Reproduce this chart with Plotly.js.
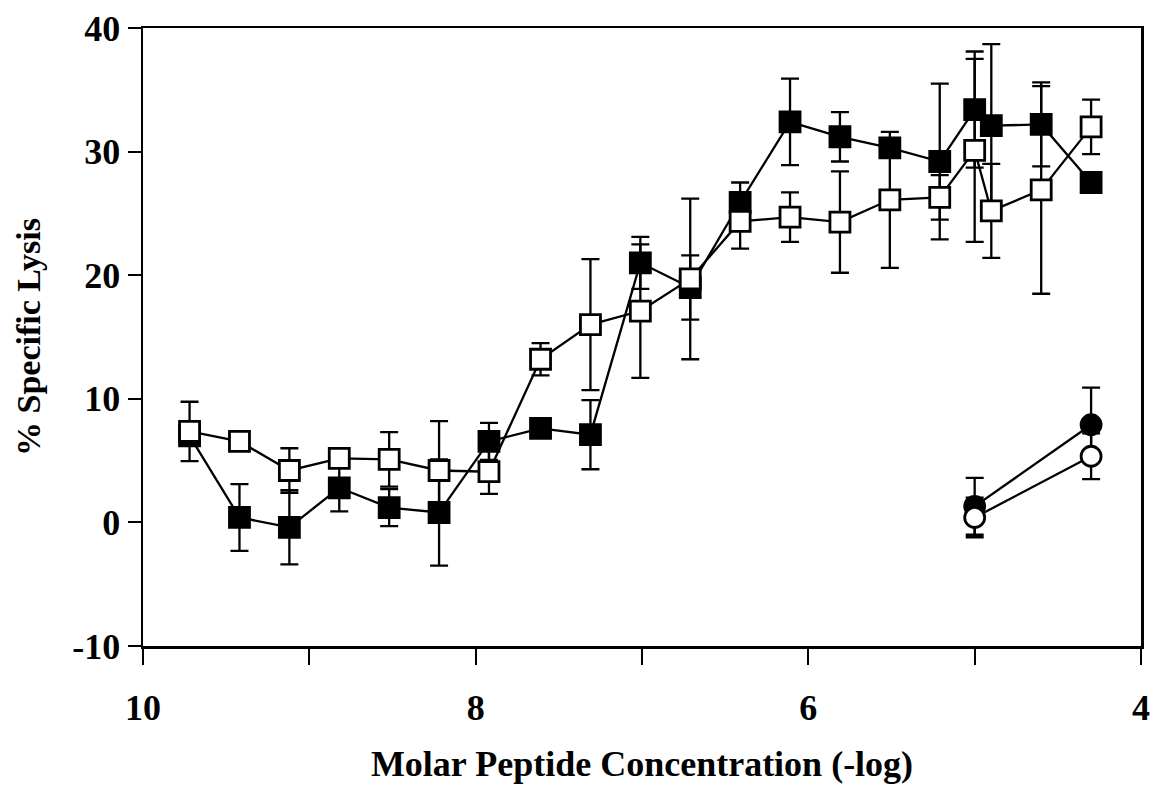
<!DOCTYPE html>
<html>
<head>
<meta charset="utf-8">
<script src="https://cdn.plot.ly/plotly-3.0.1.min.js"></script>
<style>
  html, body { margin: 0; padding: 0; background: #fff; }
  #chart { width: 1159px; height: 803px; }
</style>
</head>
<body>
<div id="chart"></div>
<script>
// Molar peptide concentration (-log), twofold dilution series
const xSquares = [9.72, 9.42, 9.12, 8.82, 8.52, 8.22, 7.92, 7.61, 7.31, 7.01, 6.71, 6.41, 6.11, 5.81, 5.51, 5.21, 5.0, 4.9, 4.6, 4.3];

// Filled squares
const filledSqY   = [7.0, 0.4, -0.4, 2.8, 1.2, 0.8, 6.55, 7.6, 7.1, 21.0, 19.0, 25.9, 32.4, 31.2, 30.3, 29.2, 33.4, 32.1, 32.2, 27.5];
const filledSqErr = [0.5, 2.7, 3.0, 1.9, 1.5, 4.3, 1.5, 0.5, 2.8, 2.1, 2.6, 1.6, 3.5, 2.0, 0.5, 6.3, 4.7, 6.6, 3.4, 0.5];

// Open squares
const openSqY   = [7.36, 6.55, 4.2, 5.18, 5.1, 4.2, 4.1, 13.2, 16.0, 17.1, 19.7, 24.35, 24.7, 24.3, 26.1, 26.3, 30.1, 25.2, 26.9, 32.0];
const openSqErr = [2.4, 0.5, 1.8, 0.5, 2.2, 4.0, 1.8, 1.3, 5.3, 5.4, 6.5, 2.2, 2.0, 4.1, 5.5, 1.8, 7.4, 3.8, 8.4, 2.2];

// Circles (controls)
const xCircles = [5.0, 4.3];
const filledCircY   = [1.3, 7.9];
const filledCircErr = [2.3, 3.0];
const openCircY   = [0.4, 5.35];
const openCircErr = [1.6, 1.85];

// Axis ticks
const xTickVals = [10, 9, 8, 7, 6, 5, 4];
const xTickText = ['10', '', '8', '', '6', '', '4'];
const yTickVals = [-10, 0, 10, 20, 30, 40];
const yTickText = ['-10', '0', '10', '20', '30', '40'];

const FONT = 'Liberation Serif, Times New Roman, serif';

function trace(x, y, err, symbol, fill) {
  return {
    x: x, y: y, type: 'scatter', mode: 'lines+markers',
    line: { color: '#000', width: 2.3 },
    marker: { symbol: symbol, size: 20, color: fill, line: { color: '#000', width: 2.8 } },
    error_y: { type: 'data', array: err, visible: true, color: '#000', thickness: 2.3, width: 9 },
    showlegend: false, hoverinfo: 'x+y'
  };
}

const data = [
  trace(xSquares, filledSqY, filledSqErr, 'square', '#000'),
  trace(xSquares, openSqY, openSqErr, 'square', '#fff'),
  trace(xCircles, filledCircY, filledCircErr, 'circle', '#000'),
  trace(xCircles, openCircY, openCircErr, 'circle', '#fff')
];

const layout = {
  width: 1159, height: 803,
  margin: { l: 143, r: 18, t: 28, b: 157 },
  paper_bgcolor: '#fff', plot_bgcolor: '#fff',
  font: { family: FONT, color: '#000', size: 34, weight: 'bold' },
  xaxis: {
    range: [10, 4], tickmode: 'array', tickvals: xTickVals, ticktext: xTickText,
    ticks: 'outside', ticklen: 16, tickwidth: 2, tickcolor: '#000',
    showline: true, linewidth: 2.5, linecolor: '#000', mirror: true,
    showgrid: false, zeroline: false,
    tickfont: { family: FONT, size: 36, weight: 'bold' },
    ticklabelstandoff: 12,
    title: { text: 'Molar Peptide Concentration (-log)', font: { family: FONT, size: 36, weight: 'bold' }, standoff: 24 }
  },
  yaxis: {
    range: [-10, 40], tickmode: 'array', tickvals: yTickVals, ticktext: yTickText,
    ticks: 'outside', ticklen: 13, tickwidth: 2, tickcolor: '#000',
    showline: true, linewidth: 2.5, linecolor: '#000', mirror: true,
    showgrid: false, zeroline: false,
    tickfont: { family: FONT, size: 36, weight: 'bold' },
    ticklabelstandoff: 0,
    title: { text: '% Specific Lysis', font: { family: FONT, size: 34, weight: 'bold' }, standoff: 22 }
  }
};

Plotly.newPlot('chart', data, layout, { displayModeBar: false, staticPlot: true });
</script>
</body>
</html>
